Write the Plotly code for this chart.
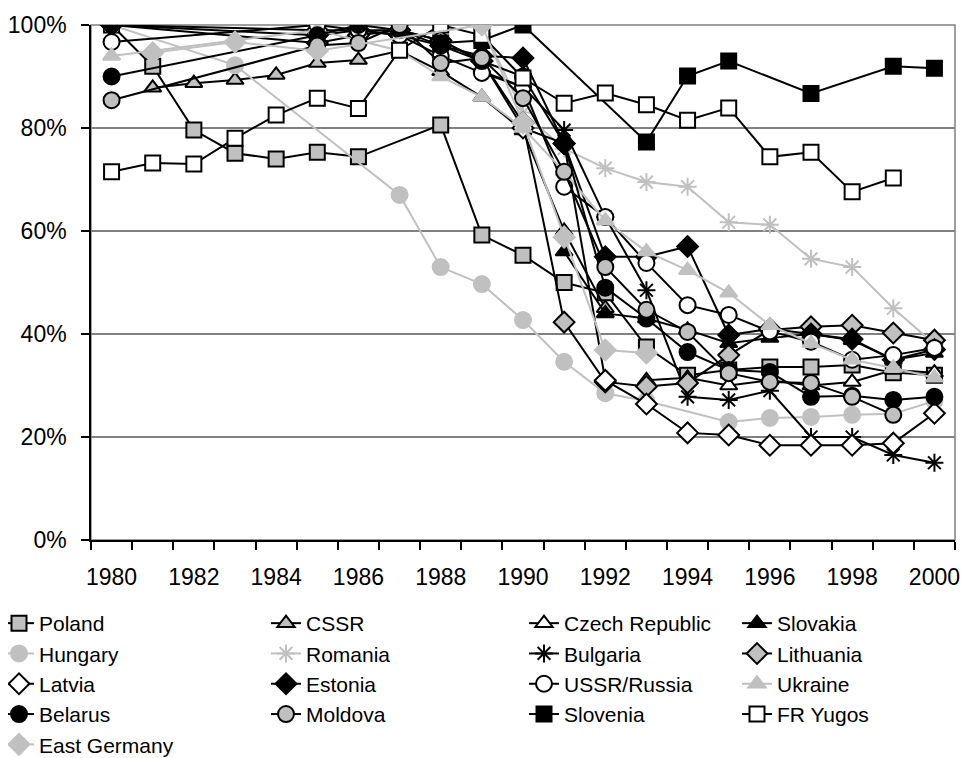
import plotly.graph_objects as go

years = list(range(1980, 2001))
N = None

poland      = [100, 92, 79.6, 75.1, 74, 75.3, 74.4, N, 80.6, 59.2, 55.3, 50, 48, 37.5, 32, 33, 33.6, 33.6, 34, 32.5, 32]
cssr        = [N, 87.8, 88.7, 89.3, 90.3, 92.6, 93.2, 95, 91, 86, 79.5, 60, 45, N, N, N, N, N, N, N, N]
czech       = [N, N, N, N, N, N, N, N, N, N, N, N, N, 31, 31.5, 30, 31, 30, 30.7, 33, 32.5]
slovakia    = [N, N, N, N, N, N, N, N, N, N, N, 56, 44, 43, 40.8, 38.2, 39.2, 40, 38.8, 35, 36.3]
hungary     = [100, N, N, 92.2, N, N, N, 67, 53, 49.7, 42.7, 34.6, 28.5, 27, N, 22.9, 23.7, 23.9, 24.3, 24.5, 27]
romania     = [N, N, N, N, N, N, N, N, N, 100, 83, 76, 72.2, 69.5, 68.6, 61.7, 61.2, 54.6, 53, 45, 38]
bulgaria    = [N, N, N, N, N, N, N, N, N, 91, 88, 79.6, 62.7, 48.5, 27.8, 27.2, 29, 20, 20, 16.5, 15]
lithuania   = [100, N, N, N, N, 96.5, 98, 99, 97, 93, 81, 42.3, 30.7, 29.8, 30.5, 35.9, 40.8, 41.4, 41.7, 40.2, 38.8]
latvia      = [100, N, N, N, N, 99, 99, 99, 97, 93, 80, 77, 31, 26.4, 20.8, 20.4, 18.4, 18.4, 18.4, 18.8, 24.6]
estonia     = [100, N, N, N, N, 98, 99, 98, 96, 94, 93.6, 77, 55, 55, 57, 39.8, 41, 40, 39, 35, 37]
ussr        = [96.7, N, N, N, N, 100, 99, 98, 94, 90.7, 88, 68.6, 62.7, 53.8, 45.6, 43.7, 40.5, 38.5, 35, 35.9, 37.3]
ukraine     = [94, N, N, N, N, 99, 97, 95, 90, 86, 80, 71.5, 62, 56, 52.4, 48, 41.7, 38.2, 35, 33.4, 31.5]
belarus     = [90, N, N, N, N, 98, 100, 99, 96, 93, 90, 77, 49, 43, 36.5, 33, 32.6, 27.8, 28, 27.2, 27.8]
moldova     = [85.4, N, N, N, N, 96, 96.5, 100, 92.6, 93.6, 85.8, 71.5, 53, 44.7, 40.4, 32.4, 30.7, 30.5, 27.8, 24.3, N]
slovenia    = [N, N, N, N, N, N, N, N, 96.5, 97, 100, N, N, 77.3, 90.1, 93, N, 86.7, N, 92, 91.6]
fryugos     = [71.5, 73.2, 73, 78, 82.5, 85.8, 83.8, 95.1, 100, 98, 89.7, 84.8, 86.8, 84.5, 81.5, 83.9, 74.4, 75.3, 67.6, 70.3, N]
eastgermany = [N, 94.6, N, 96.7, N, 95, N, N, N, 100, 81, 58.8, 36.9, 36.3, N, N, N, N, N, N, N]

GRAY = "#C0C0C0"
BLACK = "#000000"
WHITE = "#FFFFFF"

# name, data, line color, marker symbol, fill, border, legend column
series = [
    ("Poland", poland, BLACK, "square", GRAY, BLACK, "legend"),
    ("CSSR", cssr, BLACK, "triangle-up", GRAY, BLACK, "legend2"),
    ("Czech Republic", czech, BLACK, "triangle-up", WHITE, BLACK, "legend3"),
    ("Slovakia", slovakia, BLACK, "triangle-up", BLACK, BLACK, "legend4"),
    ("Hungary", hungary, GRAY, "circle", GRAY, GRAY, "legend"),
    ("Romania", romania, GRAY, "asterisk-open", GRAY, GRAY, "legend2"),
    ("Bulgaria", bulgaria, BLACK, "asterisk-open", BLACK, BLACK, "legend3"),
    ("Lithuania", lithuania, BLACK, "diamond", GRAY, BLACK, "legend4"),
    ("Latvia", latvia, BLACK, "diamond", WHITE, BLACK, "legend"),
    ("Estonia", estonia, BLACK, "diamond", BLACK, BLACK, "legend2"),
    ("USSR/Russia", ussr, BLACK, "circle", WHITE, BLACK, "legend3"),
    ("Ukraine", ukraine, GRAY, "triangle-up", GRAY, GRAY, "legend4"),
    ("Belarus", belarus, BLACK, "circle", BLACK, BLACK, "legend"),
    ("Moldova", moldova, BLACK, "circle", GRAY, BLACK, "legend2"),
    ("Slovenia", slovenia, BLACK, "square", BLACK, BLACK, "legend3"),
    ("FR Yugos", fryugos, BLACK, "square", WHITE, BLACK, "legend4"),
    ("East Germany", eastgermany, GRAY, "diamond", GRAY, GRAY, "legend"),
]

sizes = {"square": 15, "triangle-up": 15, "circle": 16, "asterisk-open": 15, "diamond": 16}

fig = go.Figure()
for name, data, lc, sym, fill, border, leg in series:
    fig.add_trace(go.Scatter(
        x=years, y=data, name=name, mode="lines+markers", connectgaps=True,
        line=dict(color=lc, width=2),
        marker=dict(symbol=sym, size=sizes[sym], color=fill,
                    line=dict(color=border, width=2)),
        legend=leg,
    ))

FONT = "Liberation Sans, Arial, sans-serif"
# the page has an 8px body margin; plot area spans page x 91..955, y 25..540
PL, PT, PW, PH = 83, 17, 864, 515


def lx(page_x):
    return (page_x - 8 - PL) / PW


def ly(page_y):
    return 1 - (page_y - 8 - PT) / PH


leg_common = dict(font=dict(family=FONT, size=21, color="black"), bgcolor="rgba(0,0,0,0)",
                  orientation="v", xref="paper", yref="paper", yanchor="top",
                  xanchor="left", tracegroupgap=0, borderwidth=0, y=ly(603))

fig.update_layout(
    width=967, height=750,
    margin=dict(l=PL, r=967 - PL - PW, t=PT, b=750 - PT - PH, autoexpand=False),
    paper_bgcolor="white", plot_bgcolor="white",
    font=dict(family=FONT, size=23, color="black"),
    showlegend=True,
    legend=dict(x=lx(-1), **leg_common),
    legend2=dict(x=lx(266), **leg_common),
    legend3=dict(x=lx(524), **leg_common),
    legend4=dict(x=lx(737), **leg_common),
    xaxis=dict(range=[1979.5, 2000.5], tickmode="array", tickvals=list(range(1980, 2001, 2)),
               ticktext=[str(v) for v in range(1980, 2001, 2)],
               ticks="", showgrid=False, zeroline=False,
               showline=True, linecolor="black", linewidth=1.5,
               minor=dict(tickmode="array", tickvals=[v + 0.5 for v in range(1979, 2001)],
                          ticks="outside", ticklen=8, tickcolor="black", tickwidth=1.5, showgrid=False),
               tickfont=dict(family=FONT, size=23), ticklabelstandoff=16),
    yaxis=dict(range=[0, 100], tickmode="array", tickvals=[0, 20, 40, 60, 80, 100],
               ticktext=["0%", "20%", "40%", "60%", "80%", "100%"],
               ticks="outside", ticklen=8, tickcolor="black", tickwidth=1.5,
               showgrid=True, gridcolor="#808080", gridwidth=1.5, zeroline=False,
               showline=True, linecolor="black", linewidth=1.5,
               tickfont=dict(family=FONT, size=23), ticklabelstandoff=10),
    shapes=[dict(type="rect", xref="paper", yref="paper", x0=0, x1=1, y0=0, y1=1,
                 line=dict(color="#808080", width=1.5), layer="below")],
)

fig.write_html("out.html")
